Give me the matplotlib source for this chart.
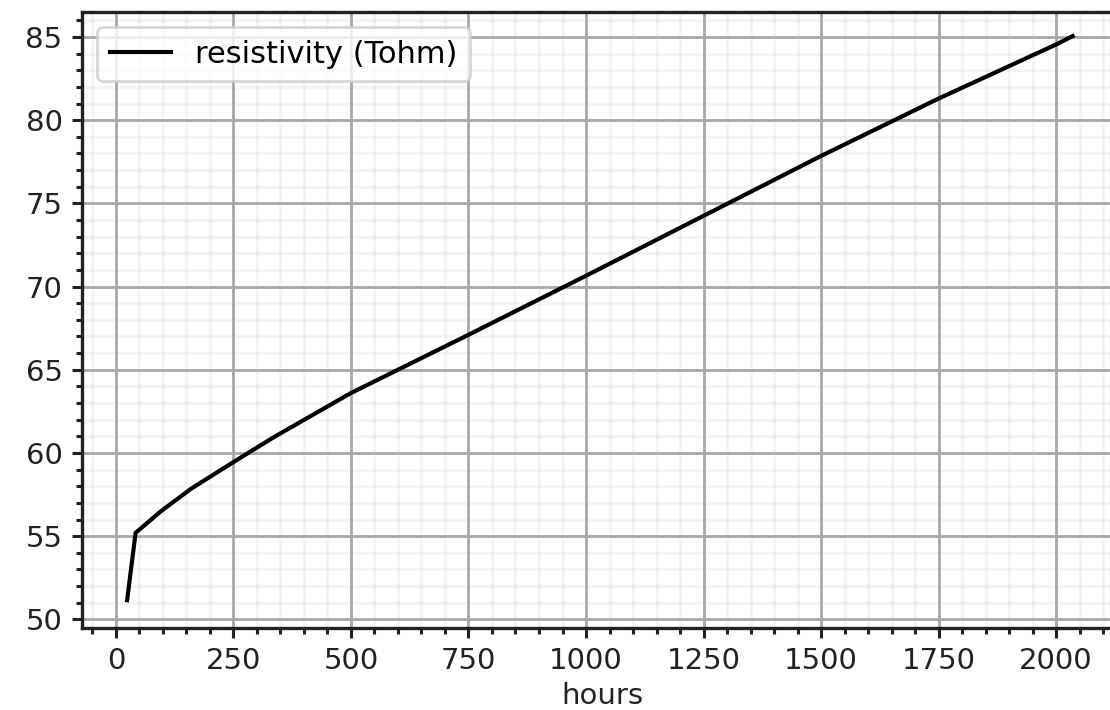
import matplotlib
matplotlib.use("Agg")
import matplotlib.pyplot as plt
from matplotlib.ticker import MultipleLocator

hours = [24, 42, 96, 160, 250, 336, 500, 750, 1000, 1250, 1500, 1750, 2000, 2035]
resistivity = [51.15, 55.2, 56.5, 57.85, 59.45, 60.95, 63.6, 67.1, 70.65, 74.25, 77.85, 81.3, 84.55, 85.05]

W, H = 1110, 710
fig = plt.figure(figsize=(W / 200, H / 200), dpi=200)
left, right, top, bottom = 82, 1122, 12, 628
ax = fig.add_axes([left / W, (H - bottom) / H, (right - left) / W, (bottom - top) / H])

ax.plot(hours, resistivity, color="k", lw=1.5, label="resistivity (Tohm)")

ax.set_xlim(-72, 2140)
ax.set_ylim(49.48, 86.5)
ax.xaxis.set_major_locator(MultipleLocator(250))
ax.xaxis.set_minor_locator(MultipleLocator(50))
ax.yaxis.set_major_locator(MultipleLocator(5))
ax.yaxis.set_minor_locator(MultipleLocator(1))
ax.grid(which="major", color="#a8a8a8", lw=1.0)
ax.grid(which="minor", color="#b0b0b0", lw=1.0, alpha=0.13)
ax.set_axisbelow(True)
for s in ax.spines.values():
    s.set_linewidth(1.2)
    s.set_color("#222222")
ax.tick_params(which="both", width=1.1, color="#222222", labelsize=10.5, labelcolor="#222222")
ax.set_xlabel("hours", fontsize=10.5, color="#222222", labelpad=2.5)
ax.legend(loc="upper left", prop={"size": 11})

fig.savefig("out.png", dpi=200)
